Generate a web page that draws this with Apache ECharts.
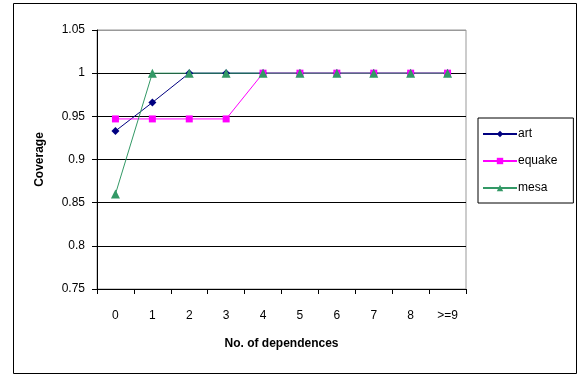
<!DOCTYPE html>
<html>
<head>
<meta charset="utf-8">
<script src="https://cdn.jsdelivr.net/npm/echarts@6/dist/echarts.min.js"></script>
<style>
  html, body { margin: 0; padding: 0; background: #fff; }
  #chart { width: 579px; height: 377px; }
</style>
</head>
<body>
<div id="chart"></div>
<script>
// Categories: number of dependences
const categories = ['0', '1', '2', '3', '4', '5', '6', '7', '8', '>=9'];

// Coverage per benchmark
const artValues    = [0.933, 0.966, 1, 1, 1, 1, 1, 1, 1, 1];
const equakeValues = [0.947, 0.947, 0.947, 0.947, 1, 1, 1, 1, 1, 1];
const mesaValues   = [0.86, 1, 1, 1, 1, 1, 1, 1, 1, 1];

const FONT = '"Liberation Sans", Arial, sans-serif';

const chart = echarts.init(document.getElementById('chart'), null, { renderer: 'canvas' });

function lineSeries(name, data, color, symbol, size) {
  return {
    name: name,
    type: 'line',
    data: data,
    symbol: symbol,
    symbolSize: size,
    showAllSymbol: true,
    lineStyle: { color: color, width: 1 },
    itemStyle: { color: color },
    emphasis: { disabled: true },
    animation: false
  };
}

chart.setOption({
  backgroundColor: '#fff',
  animation: false,
  textStyle: { fontFamily: FONT, color: '#000' },
  graphic: [{
    type: 'rect',
    shape: { x: 13.5, y: 3.5, width: 563, height: 370 },
    style: { fill: 'none', stroke: '#000', lineWidth: 1 },
    z: -1
  }],
  grid: {
    left: 97, top: 30, width: 369, height: 259,
    show: true, borderColor: '#999', borderWidth: 1, backgroundColor: '#fff'
  },
  legend: {
    orient: 'vertical',
    left: 478, top: 118,
    width: 95,
    padding: [10, 16, 9, 4],
    itemGap: 15,
    itemWidth: 34,
    itemHeight: 8,
    borderColor: '#000',
    borderWidth: 1,
    backgroundColor: '#fff',
    textStyle: { fontFamily: FONT, fontSize: 12, color: '#000', padding: [0, 0, 0, -4] },
    data: ['art', 'equake', 'mesa']
  },
  xAxis: {
    type: 'category',
    data: categories,
    boundaryGap: true,
    name: 'No. of dependences',
    nameLocation: 'middle',
    nameGap: 49,
    nameTextStyle: { fontFamily: FONT, fontSize: 12, fontWeight: 'bold', color: '#000' },
    axisLine: { lineStyle: { color: '#000', width: 1 } },
    axisTick: { show: true, length: 5, lineStyle: { color: '#000' } },
    axisLabel: { fontFamily: FONT, fontSize: 12, color: '#000', margin: 21 },
    splitLine: { show: false }
  },
  yAxis: {
    type: 'value',
    min: 0.75,
    max: 1.05,
    interval: 0.05,
    name: 'Coverage',
    nameLocation: 'middle',
    nameGap: 51,
    nameRotate: 90,
    nameTextStyle: { fontFamily: FONT, fontSize: 12, fontWeight: 'bold', color: '#000' },
    axisLine: { show: true, lineStyle: { color: '#000', width: 1 } },
    axisTick: { show: true, length: 5, lineStyle: { color: '#000' } },
    axisLabel: {
      fontFamily: FONT, fontSize: 12, color: '#000', margin: 12,
      formatter: v => String(+v.toFixed(2))
    },
    splitLine: {
      show: true,
      lineStyle: { color: ['#000', '#000', '#000', '#000', '#000', '#000', '#999'], width: 1 }
    }
  },
  series: [
    lineSeries('art', artValues, '#000080', 'diamond', 8),
    lineSeries('equake', equakeValues, '#ff00ff', 'rect', 7),
    lineSeries('mesa', mesaValues, '#339966', 'triangle', 9)
  ]
});
</script>
</body>
</html>
